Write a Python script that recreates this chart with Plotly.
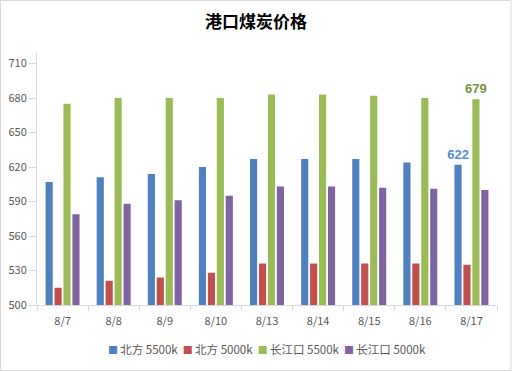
import plotly.graph_objects as go

categories = ["8/7", "8/8", "8/9", "8/10", "8/13", "8/14", "8/15", "8/16", "8/17"]
north_5500 = [607, 611, 614, 620, 627, 627, 627, 624, 622]
north_5000 = [515, 521, 524, 528, 536, 536, 536, 536, 535]
cj_5500 = [675, 680, 680, 680, 683, 683, 682, 680, 679]
cj_5000 = [579, 588, 591, 595, 603, 603, 602, 601, 600]
series_names = ["北方 5500k", "北方 5000k", "长江口 5500k", "长江口 5000k"]
y_ticks = [500, 530, 560, 590, 620, 650, 680, 710]

colors = ["#4F81BD", "#C0504D", "#9BBB59", "#8064A2"]
label_colors = ["#558ED5", None, "#77933C", None]
FONT = "Noto Sans CJK SC, Liberation Sans, sans-serif"

fig = go.Figure()
for name, vals, col, lcol in zip(series_names, [north_5500, north_5000, cj_5500, cj_5000], colors, label_colors):
    text = [""] * len(vals)
    if lcol:
        text[-1] = str(vals[-1])
    fig.add_trace(go.Bar(
        x=categories, y=vals, name=name, marker_color=col,
        marker_line_width=0,
        text=text, textposition="outside", cliponaxis=False,
        textfont=dict(color=lcol or col, size=13, family="Liberation Sans, sans-serif", weight="bold"),
    ))

# compact Excel-style legend as a single centred line of text
legend_html = "&nbsp;&nbsp;".join(
    f"<span style='color:{c};font-size:10px'>■&nbsp;</span>{n}" for n, c in zip(series_names, colors)
)
fig.add_annotation(text=legend_html, xref="paper", yref="paper", x=0.5, y=-0.174,
                   xanchor="center", yanchor="middle", showarrow=False,
                   font=dict(size=11.5, color="#595959", family=FONT))

fig.update_layout(
    width=512, height=371,
    paper_bgcolor="white", plot_bgcolor="white",
    margin=dict(l=37, r=15, t=52, b=66),
    barmode="group", bargap=0.3, bargroupgap=0.2,
    title=dict(text="<b>港口煤炭价格</b>", x=0.5, xanchor="center", y=0.94, yanchor="middle",
               font=dict(size=17, color="#000000", family=FONT)),
    font=dict(family=FONT, color="#595959", size=11),
    showlegend=False,
    uniformtext=dict(minsize=13, mode="show"),
)
fig.update_yaxes(range=[500, 720], tickvals=y_ticks, showgrid=False, showline=True,
                 linecolor="#D9D9D9", linewidth=1, ticks="outside", ticklen=7,
                 tickcolor="#D9D9D9", zeroline=False, automargin=False,
                 tickfont=dict(size=11, color="#595959"))
fig.update_xaxes(showgrid=False, showline=True, linecolor="#D9D9D9", linewidth=1,
                 ticks="outside", tickson="boundaries", ticklen=5, tickcolor="#D9D9D9",
                 automargin=False, ticklabelstandoff=6,
                 tickfont=dict(size=11, color="#595959"))
fig.add_shape(type="rect", xref="paper", yref="paper",
              x0=-36.5/460, x1=1 + 14/460, y0=-65.5/253, y1=1 + 51.5/253,
              line=dict(color="#D9D9D9", width=1), fillcolor="rgba(0,0,0,0)", layer="below")

fig.write_html("out.html", config={"displayModeBar": False},
               post_script="document.body.style.margin='0';")
